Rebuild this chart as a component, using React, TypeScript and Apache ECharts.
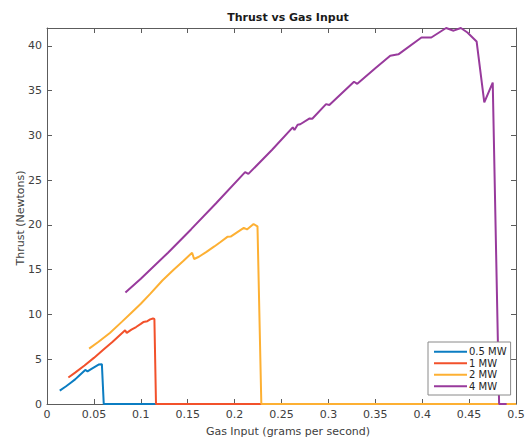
import React, { useEffect, useRef } from "react";
import * as echarts from "echarts";

// Gas input (g/s) and thrust (N) for each power level
const gas05 = [0.0136, 0.02, 0.025, 0.03, 0.035, 0.0408, 0.0432, 0.047, 0.051, 0.055, 0.0585, 0.0605, 0.5];
const thrust05 = [1.5, 1.95, 2.35, 2.75, 3.25, 3.8, 3.65, 3.9, 4.15, 4.4, 4.45, 0, 0];

const gas1 = [0.0228, 0.03, 0.04, 0.05, 0.06, 0.07, 0.0833, 0.085, 0.09, 0.095, 0.1, 0.1027, 0.107, 0.11, 0.113, 0.1145, 0.1162, 0.5];
const thrust1 = [2.96, 3.5, 4.3, 5.15, 6.05, 6.95, 8.24, 7.94, 8.3, 8.6, 8.95, 9.15, 9.25, 9.45, 9.55, 9.5, 0, 0];

const gas2 = [0.0449, 0.055, 0.067, 0.08, 0.09, 0.1, 0.11, 0.123, 0.135, 0.145, 0.1547, 0.1568, 0.162, 0.17, 0.1784, 0.185, 0.1923, 0.1958, 0.203, 0.2098, 0.2132, 0.2202, 0.2244, 0.2285, 0.5];
const thrust2 = [6.18, 6.95, 7.94, 9.2, 10.2, 11.2, 12.3, 13.8, 15.0, 15.95, 16.9, 16.2, 16.45, 17.0, 17.6, 18.1, 18.67, 18.7, 19.2, 19.67, 19.5, 20.1, 19.85, 0, 0];

const gas4 = [0.0836, 0.1, 0.129, 0.1535, 0.18, 0.2112, 0.2147, 0.24, 0.262, 0.2638, 0.2672, 0.27, 0.28, 0.2828, 0.2975, 0.301, 0.3273, 0.3308, 0.35, 0.3659, 0.3746, 0.3992, 0.4097, 0.4255, 0.4335, 0.4412, 0.4482, 0.458, 0.4662, 0.4752, 0.482, 0.49];
const thrust4 = [12.45, 14.0, 16.9, 19.5, 22.4, 25.9, 25.7, 28.4, 30.9, 30.6, 31.2, 31.25, 31.9, 31.86, 33.5, 33.4, 36.0, 35.76, 37.5, 38.9, 39.06, 40.94, 40.94, 42.0, 41.7, 42.0, 41.5, 40.5, 33.7, 35.9, 0, 0];

const seriesNames = ["0.5 MW", "1 MW", "2 MW", "4 MW"];
const seriesColors = ["#0B7DC2", "#F2512B", "#FDB033", "#983A9C"];
const yTicks = [0, 5, 10, 15, 20, 25, 30, 35, 40];

const FONT = "DejaVu Sans";
const AXIS_COLOR = "#5c5c5c";
const TEXT_COLOR = "#404040";

const zip = (xs: number[], ys: number[]) => xs.map((x, i) => [x, ys[i]]);

export default function App() {
  const ref = useRef<HTMLDivElement>(null);

  useEffect(() => {
    if (!ref.current) return;
    const chart = echarts.init(ref.current, undefined, { renderer: "svg" });

    const xBase = {
      type: "value" as const,
      min: 0,
      max: 0.5,
      interval: 0.05,
      splitLine: { show: false },
      axisLine: { show: true, onZero: false, lineStyle: { color: AXIS_COLOR, width: 1 } },
      axisTick: { show: true, inside: true, length: 5, lineStyle: { color: AXIS_COLOR } },
    };
    const yBase = {
      type: "value" as const,
      min: 0,
      max: 42,
      interval: 5,
      splitLine: { show: false },
      axisLine: { show: true, onZero: false, lineStyle: { color: AXIS_COLOR, width: 1 } },
      axisTick: { show: true, inside: true, length: 5, customValues: yTicks, lineStyle: { color: AXIS_COLOR } },
    };

    const pairs = [
      zip(gas05, thrust05),
      zip(gas1, thrust1),
      zip(gas2, thrust2),
      zip(gas4, thrust4),
    ];

    const textStyle = (size: number, weight: string, fill: string) => ({
      fontFamily: FONT,
      fontSize: size,
      fontWeight: weight,
      fill,
      align: "center",
      verticalAlign: "middle",
    });

    chart.setOption({
      animation: false,
      backgroundColor: "#ffffff",
      grid: { left: 47, right: 13, top: 28, bottom: 35 },
      xAxis: [
        {
          ...xBase,
          position: "bottom",
          axisLabel: {
            color: TEXT_COLOR,
            fontFamily: FONT,
            fontSize: 11,
            margin: 5,
            formatter: (v: number) => String(+v.toFixed(2)),
          },
        },
        { ...xBase, position: "top", axisLabel: { show: false } },
      ],
      yAxis: [
        {
          ...yBase,
          position: "left",
          axisLabel: {
            color: TEXT_COLOR,
            fontFamily: FONT,
            fontSize: 11,
            margin: 5,
            customValues: yTicks,
            formatter: (v: number) => (v > 40 ? "" : String(v)),
          },
        },
        { ...yBase, position: "right", axisLabel: { show: false } },
      ],
      legend: {
        orient: "vertical",
        left: 428,
        top: 342,
        data: seriesNames,
        icon: "rect",
        itemWidth: 33,
        itemHeight: 2,
        itemGap: 0,
        padding: [4, 4, 3, 6],
        borderColor: "#8a8a8a",
        borderWidth: 1,
        backgroundColor: "#ffffff",
        textStyle: { fontFamily: FONT, fontSize: 10, lineHeight: 11.5, color: "#262626", padding: [0, 0, 0, -3] },
      },
      graphic: [
        {
          type: "text",
          x: 288,
          y: 17,
          style: { text: "Thrust vs Gas Input", ...textStyle(11, "bold", "#1a1a1a") },
        },
        {
          type: "text",
          x: 288,
          y: 431,
          style: { text: "Gas Input (grams per second)", ...textStyle(11, "normal", TEXT_COLOR) },
        },
        {
          type: "text",
          x: 20,
          y: 218,
          rotation: Math.PI / 2,
          style: { text: "Thrust (Newtons)", ...textStyle(11, "normal", TEXT_COLOR) },
        },
      ],
      series: seriesNames.map((name, i) => ({
        name,
        type: "line",
        xAxisIndex: 0,
        yAxisIndex: 0,
        data: pairs[i],
        symbol: "none",
        showSymbol: false,
        color: seriesColors[i],
        lineStyle: { width: 2, color: seriesColors[i] },
        itemStyle: { color: seriesColors[i] },
      })),
    });

    return () => chart.dispose();
  }, []);

  return <div ref={ref} style={{ width: 529, height: 439, position: "absolute", left: 0, top: 0 }} />;
}
